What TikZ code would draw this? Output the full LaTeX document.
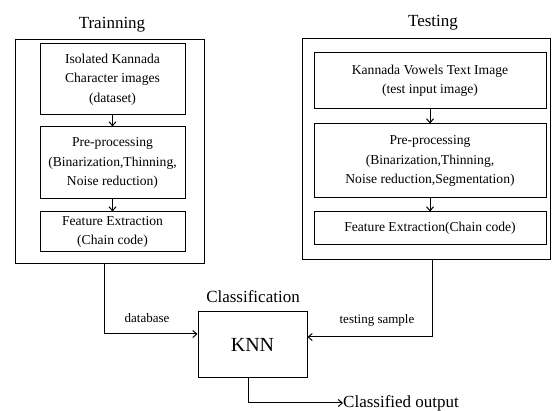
\documentclass[tikz,border=0pt]{standalone}
\usepackage{fontspec}
\setmainfont{Liberation Serif}
\usetikzlibrary{arrows.meta,calc}
\begin{document}
\begin{tikzpicture}[x=1pt,y=-1pt,
  box/.style={draw,line width=1pt,rectangle,inner sep=0pt,align=center,
    font=\fontsize{13.6}{19.5}\selectfont},
  outer/.style={draw,line width=1pt,rectangle,inner sep=0pt},
  title/.style={font=\fontsize{17}{20}\selectfont,inner sep=0pt},
  lbl/.style={font=\fontsize{13}{15}\selectfont,inner sep=0pt},
  arr/.style={line width=1pt,-{Straight Barb[length=4pt,width=7pt]}},
  ln/.style={line width=1pt}]
\useasboundingbox (0,0) rectangle (552,411);
% Training
\node[outer,minimum width=189pt,minimum height=224pt] (trOuter) at (109.5,152) {};
\node[title] (trTitle) at (112,25) {Trainning};
\node[box,minimum width=145pt,minimum height=71pt] (tr1) at (112.5,79.5)
  {Isolated Kannada\\Character images\\(dataset)};
\node[box,minimum width=145pt,minimum height=72pt] (tr2) at (112.5,163)
  {Pre-processing\\(Binarization,Thinning,\\Noise reduction)};
\node[box,minimum width=145pt,minimum height=40pt] (tr3) at (112.5,232)
  {Feature Extraction\\(Chain code)};
\draw[arr] (tr1.south) -- (tr2.north);
\draw[arr] (tr2.south) -- (tr3.north);
% Testing
\node[outer,minimum width=248pt,minimum height=221pt] (teOuter) at (426,149.5) {};
\node[title] (teTitle) at (433,23) {Testing};
\node[box,minimum width=232pt,minimum height=56pt] (te1) at (430,81)
  {Kannada Vowels Text Image\\(test input image)};
\node[box,minimum width=232pt,minimum height=74pt] (te2) at (430,161)
  {Pre-processing\\(Binarization,Thinning,\\Noise reduction,Segmentation)};
\node[box,minimum width=232pt,minimum height=33pt] (te3) at (430,228.5)
  {Feature Extraction(Chain code)};
\draw[arr] (te1.south) -- (te2.north);
\draw[arr] (te2.south) -- (te3.north);
% Classification
\node[box,minimum width=109pt,minimum height=66pt,font=\fontsize{20}{24}\selectfont] (knn) at (252.5,345) {KNN};
\node[title] (clTitle) at (253,297) {Classification};
\draw[arr] ([xshift=-5.5pt]trOuter.south) |- ([yshift=11pt]knn.west);
\draw[arr] ([xshift=6pt]teOuter.south) |- ([yshift=8pt]knn.east);
\node[lbl] (db) at (147,318) {database};
\node[lbl] (ts) at (377,320) {testing sample};
\coordinate (out) at (343,403);
\draw[arr] ([xshift=-4.5pt]knn.south) |- (out);
\node[title,anchor=west] (outLbl) at (out) {Classified output};
\end{tikzpicture}
\end{document}
